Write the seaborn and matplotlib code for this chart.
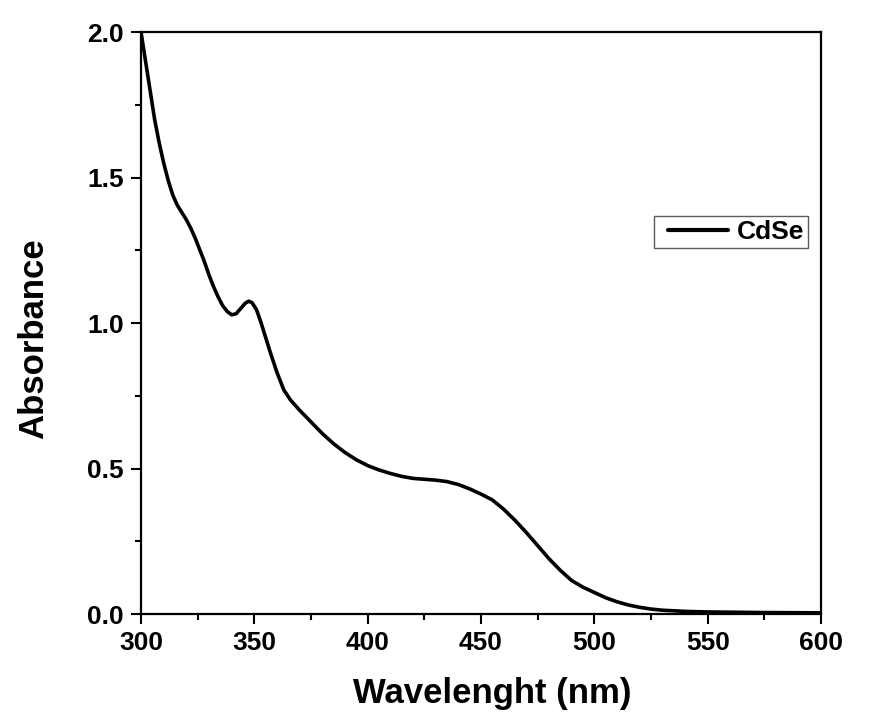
import numpy as np
import pandas as pd
import matplotlib
matplotlib.use("Agg")
import matplotlib.pyplot as plt
import seaborn as sns
from matplotlib.ticker import MultipleLocator
from matplotlib.lines import Line2D
from matplotlib.legend_handler import HandlerLine2D

wavelength = [300, 302, 304, 306, 308, 310, 312, 314, 316, 318, 320, 322, 324, 326, 328, 330,
              332, 334, 336, 338, 340, 342, 344, 346, 347.5, 349, 351, 353, 355, 357, 360, 363,
              366, 370, 375, 380, 385, 390, 395, 400, 405, 410, 415, 420, 425, 430, 435, 440,
              445, 450, 455, 460, 465, 470, 475, 480, 485, 490, 495, 500, 505, 510, 515, 520,
              525, 530, 540, 550, 575, 600]
absorbance = [2.00, 1.90, 1.80, 1.70, 1.62, 1.55, 1.49, 1.44, 1.405, 1.38, 1.355, 1.325, 1.29, 1.25,
              1.21, 1.165, 1.125, 1.09, 1.06, 1.04, 1.028, 1.032, 1.05, 1.068, 1.075, 1.07, 1.045,
              1.0, 0.95, 0.90, 0.83, 0.77, 0.735, 0.70, 0.66, 0.62, 0.585, 0.555, 0.53, 0.51, 0.495,
              0.483, 0.473, 0.466, 0.463, 0.46, 0.455, 0.445, 0.43, 0.412, 0.392, 0.36, 0.322,
              0.28, 0.235, 0.19, 0.15, 0.115, 0.092, 0.074, 0.056, 0.042, 0.031, 0.023, 0.017,
              0.013, 0.009, 0.007, 0.005, 0.004]
series_name = "CdSe"
x_label = "Wavelenght (nm)"
y_label = "Absorbance"

df = pd.DataFrame({"Wavelength": wavelength, "Absorbance": absorbance, "Sample": series_name})

sns.set_theme(style="ticks")
plt.rcParams['font.family'] = ['Liberation Sans', 'DejaVu Sans']
plt.rcParams['font.weight'] = 'bold'
plt.rcParams['text.color'] = 'black'
plt.rcParams['axes.labelcolor'] = 'black'

fig = plt.figure(figsize=(8.76, 7.19), dpi=100)
ax = fig.add_axes([141/876, 1 - 614/719, 680/876, 582/719])

sns.lineplot(data=df, x="Wavelength", y="Absorbance", hue="Sample", palette=["black"],
             linewidth=2.6, ax=ax)

ax.set_xlim(300, 600)
ax.set_ylim(0, 2.0)
ax.xaxis.set_major_locator(MultipleLocator(50))
ax.xaxis.set_minor_locator(MultipleLocator(25))
ax.yaxis.set_major_locator(MultipleLocator(0.5))
ax.yaxis.set_minor_locator(MultipleLocator(0.25))
ax.set_xticks(ax.get_xticks())
ax.set_yticks(ax.get_yticks())
ax.set_xticklabels([f"{int(v)}" for v in ax.get_xticks()])
ax.set_yticklabels([f"{v:.1f}" for v in ax.get_yticks()])
ax.set_xlim(300, 600)
ax.set_ylim(0, 2.0)
for s in ax.spines.values():
    s.set_linewidth(1.6)
    s.set_color("black")
    s.set_visible(True)
ax.tick_params(which="major", direction="out", length=7.5, width=1.5, colors="black", pad=5,
               labelsize=19)
ax.tick_params(which="minor", direction="out", length=4, width=1.5, colors="black")
for lab in ax.get_xticklabels() + ax.get_yticklabels():
    lab.set_fontweight("bold")
    lab.set_color("black")

ax.set_xlabel(x_label, fontsize=25, fontweight="bold", color="black")
ax.xaxis.set_label_coords(0.516, -0.109)
ax.set_ylabel(y_label, fontsize=25, fontweight="bold", color="black")
ax.yaxis.set_label_coords(-0.134, 0.474)

fs = 19
leg = ax.legend(loc="upper left", bbox_to_anchor=(0.754, 0.684), borderaxespad=0, frameon=True,
                fancybox=False, handlelength=2.65, borderpad=0.15, handletextpad=0.34,
                handler_map={Line2D: HandlerLine2D(xpad=0.38)},
                prop={"weight": "bold", "size": fs, "family": ['Liberation Sans', 'DejaVu Sans']})
leg.get_frame().set_edgecolor("#333333")
leg.get_frame().set_linewidth(1.0)
for line in leg.get_lines():
    line.set_linewidth(3)
for t in leg.get_texts():
    t.set_color("black")

fig.savefig("out.png", dpi=100)
